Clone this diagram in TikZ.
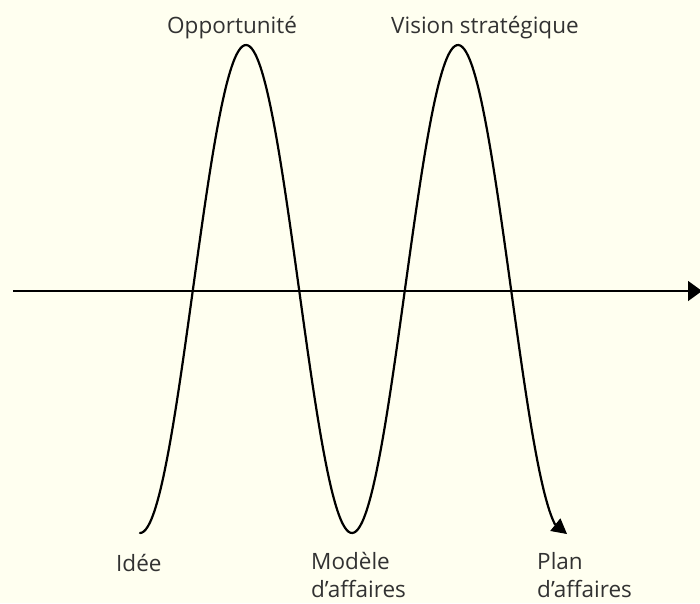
\documentclass[tikz,border=0pt]{standalone}
\usepackage{fontspec}
\setmainfont{Open Sans}
\usetikzlibrary{arrows.meta}
\definecolor{bg}{RGB}{255,255,240}
\definecolor{txt}{RGB}{50,50,50}
\tikzset{
  lbl/.style={anchor=base west, inner sep=0pt, text=txt, font=\fontsize{22.5}{28}\selectfont, align=left},
  axisline/.style={line width=1.4pt, -{Triangle[length=14pt,width=20pt]}},
  wave/.style={line width=2.2pt, line cap=round},
  wavetip/.style={line width=1pt, -{Triangle[length=15pt,width=16pt]}}
}
\begin{document}
\begin{tikzpicture}[x=1pt,y=-1pt]
\fill[bg] (0,0) rectangle (700,603);
\useasboundingbox (0,0) rectangle (700,603);
\coordinate (a0) at (13,291);
\coordinate (a1) at (702,291);
\draw[axisline] (a0) -- (a1);
\draw[wave, smooth] plot[domain=140:555, samples=220] (\x,{289+244*cos(1.698113*(\x-140))}) coordinate (e);
\coordinate (t) at (567,534);
\draw[wavetip] (e) -- (t);
\node[lbl] (o) at (167,33) {Opportunité};
\node[lbl] (v) at (391,33) {Vision stratégique};
\node[lbl] (i) at (116,571) {Idée};
\node[lbl] (m) at (311,597) {Modèle\\d’affaires};
\node[lbl] (p) at (537,597) {Plan\\d’affaires};
\end{tikzpicture}
\end{document}
